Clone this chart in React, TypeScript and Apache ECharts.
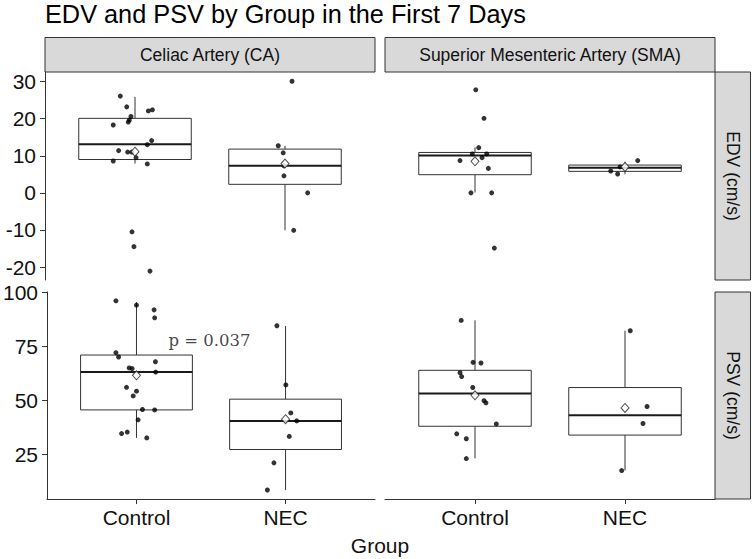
import React, { useEffect, useRef } from "react";
import * as echarts from "echarts";

// ---------- data ----------
const groups = ["Control", "NEC"];
const arteries = ["Celiac Artery (CA)", "Superior Mesenteric Artery (SMA)"];
const measures = ["EDV (cm/s)", "PSV (cm/s)"];
const chartTitle = "EDV and PSV by Group in the First 7 Days";
const xTitle = "Group";

const edvTicks = [-20, -10, 0, 10, 20, 30];
const psvTicks = [25, 50, 75, 100];
const edvRange = [-23.5, 32.6];
const psvRange = [4.1, 100.3];

// box stats per group: [lower whisker, Q1, median, Q3, upper whisker]
const caEdvBox = [
  [7.9, 9.0, 13.1, 20.1, 25.9],
  [-10.1, 2.3, 7.3, 11.8, 12.7],
];
const smaEdvBox = [
  [0.1, 4.9, 10.1, 10.9, 12.3],
  [5.0, 5.8, 6.8, 7.5, 8.4],
];
const caPsvBox = [
  [32.5, 45.5, 63.1, 71.0, 95.6],
  [8.3, 27.1, 40.4, 50.5, 84.5],
];
const smaPsvBox = [
  [23.0, 37.9, 53.1, 63.9, 87.1],
  [17.4, 33.8, 43.0, 55.9, 82.3],
];

// group means
const caEdvMean = [11.1, 7.9];
const smaEdvMean = [8.5, 7.0];
const caPsvMean = [61.6, 41.2];
const smaPsvMean = [52.3, 46.4];

// jittered observations: [jitter offset from group centre, value]
const caEdvControl = [
  [-0.098, 26.1], [-0.055, 23.2], [0.089, 22.1], [0.116, 22.4], [-0.027, 20.6],
  [-0.038, 19.6], [-0.045, 19.1], [-0.145, 18.3], [0.111, 14.1], [0.082, 13.0],
  [-0.109, 11.4], [-0.049, 11.0], [-0.022, 11.0], [0.007, 9.5], [-0.145, 8.6],
  [0.082, 7.8], [-0.02, -10.5], [-0.007, -14.5], [0.1, -21.1],
];
const caEdvNec = [
  [0.047, 30.1], [-0.045, 12.7], [-0.012, 10.8], [-0.007, 7.3], [-0.007, 4.6],
  [0.151, 0.0], [0.058, -10.1],
];
const smaEdvControl = [
  [0.005, 27.8], [0.06, 20.1], [0.025, 12.2], [-0.018, 10.5], [0.078, 10.5],
  [0.047, 9.5], [-0.1, 8.7], [0.089, 6.6], [-0.027, 0.0], [0.111, 0.0],
  [0.129, -14.9],
];
const smaEdvNec = [
  [0.085, 8.7], [-0.033, 7.0], [-0.095, 5.9], [-0.049, 5.1],
];
const caPsvControl = [
  [-0.138, 96.2], [0.0, 94.2], [0.118, 92.0], [0.122, 88.3], [-0.138, 72.1],
  [-0.12, 70.1], [0.127, 67.9], [-0.049, 65.0], [-0.029, 64.7], [0.129, 63.1],
  [-0.067, 56.0], [0.0, 54.2], [-0.022, 52.0], [0.04, 45.7], [0.122, 45.5],
  [0.011, 40.9], [-0.062, 35.2], [-0.1, 34.5], [0.069, 32.5],
];
const caPsvNec = [
  [-0.058, 84.6], [0.002, 57.1], [0.035, 44.1], [0.075, 40.4], [0.025, 33.2],
  [-0.078, 20.9], [-0.122, 8.3],
];
const smaPsvControl = [
  [-0.092, 87.1], [-0.013, 67.6], [0.04, 67.3], [-0.1, 62.8], [-0.089, 61.0],
  [-0.015, 55.9], [0.06, 49.8], [0.073, 48.8], [0.142, 39.0], [-0.122, 34.4],
  [-0.058, 32.1], [-0.058, 22.9],
];
const smaPsvNec = [
  [0.035, 82.3], [0.147, 47.1], [0.12, 39.2], [-0.022, 17.3],
];

// p-value annotation (CA, PSV panel) at data position
const pText = "p = 0.037";
const pPos = [1.49, 77.8];

// ---------- chart ----------
const FONT = "'Liberation Sans', Arial, sans-serif";
const INK = "#111111";
const LINE = "#333333";

const panels = [
  { box: caEdvBox, mean: caEdvMean, pts: [caEdvControl, caEdvNec], range: edvRange, ticks: edvTicks },
  { box: smaEdvBox, mean: smaEdvMean, pts: [smaEdvControl, smaEdvNec], range: edvRange, ticks: edvTicks },
  { box: caPsvBox, mean: caPsvMean, pts: [caPsvControl, caPsvNec], range: psvRange, ticks: psvTicks },
  { box: smaPsvBox, mean: smaPsvMean, pts: [smaPsvControl, smaPsvNec], range: psvRange, ticks: psvTicks },
];

const PL = [45, 385];
const PW = 330;
const PT = [72, 292];
const PH = [208, 207];

function renderBox(_params: any, api: any) {
  const x = api.value(0);
  const lo = api.value(1), q1 = api.value(2), md = api.value(3), q3 = api.value(4), hi = api.value(5);
  const hw = 0.375;
  const tl = api.coord([x - hw, q3]);
  const br = api.coord([x + hw, q1]);
  const ml = api.coord([x - hw, md]);
  const mr = api.coord([x + hw, md]);
  const pHi = api.coord([x, hi]);
  const pQ3 = api.coord([x, q3]);
  const pQ1 = api.coord([x, q1]);
  const pLo = api.coord([x, lo]);
  const ls = { stroke: LINE, lineWidth: 1 };
  return {
    type: "group",
    children: [
      { type: "line", shape: { x1: pHi[0], y1: pHi[1], x2: pQ3[0], y2: pQ3[1] }, style: ls },
      { type: "line", shape: { x1: pQ1[0], y1: pQ1[1], x2: pLo[0], y2: pLo[1] }, style: ls },
      {
        type: "rect",
        shape: { x: tl[0], y: tl[1], width: br[0] - tl[0], height: br[1] - tl[1] },
        style: { fill: "#ffffff", stroke: LINE, lineWidth: 1 },
      },
      { type: "line", shape: { x1: ml[0], y1: ml[1], x2: mr[0], y2: mr[1] }, style: { stroke: "#1a1a1a", lineWidth: 2 } },
    ],
  };
}

function buildOption() {
  const grid: any[] = [];
  const xAxis: any[] = [];
  const yAxis: any[] = [];
  const series: any[] = [];

  panels.forEach((p, i) => {
    const col = i % 2;
    const row = Math.floor(i / 2);
    grid.push({ left: PL[col], top: PT[row], width: PW, height: PH[row] });
    const showX = row === 1;
    const showY = col === 0;
    xAxis.push({
      gridIndex: i,
      type: "value",
      min: 0.4,
      max: 2.6,
      splitLine: { show: false },
      axisLine: { show: showX, onZero: false, lineStyle: { color: LINE, width: 1 } },
      axisTick: { show: showX, customValues: [1, 2], length: 5, lineStyle: { color: LINE } },
      axisLabel: {
        show: showX,
        customValues: [1, 2],
        formatter: (v: number) => groups[Math.round(v) - 1] ?? "",
        fontFamily: FONT,
        fontSize: 21,
        color: INK,
        margin: 8,
      },
    });
    yAxis.push({
      gridIndex: i,
      type: "value",
      min: p.range[0],
      max: p.range[1],
      splitLine: { show: false },
      axisLine: { show: showY, onZero: false, lineStyle: { color: LINE, width: 1 } },
      axisTick: { show: showY, customValues: p.ticks, length: 5, lineStyle: { color: LINE } },
      axisLabel: {
        show: showY,
        customValues: p.ticks,
        fontFamily: FONT,
        fontSize: 21,
        color: INK,
        margin: 9,
      },
    });

    series.push({
      type: "custom",
      xAxisIndex: i,
      yAxisIndex: i,
      renderItem: renderBox,
      encode: { x: 0, y: [1, 2, 3, 4, 5] },
      data: p.box.map((b, g) => [g + 1, ...b]),
      z: 1,
    });
    const pts: number[][] = [];
    p.pts.forEach((arr, g) => arr.forEach(([dx, v]) => pts.push([g + 1 + dx, v])));
    series.push({
      type: "scatter",
      xAxisIndex: i,
      yAxisIndex: i,
      data: pts,
      symbol: "circle",
      symbolSize: 5,
      itemStyle: { color: "#000000" },
      z: 3,
    });
    series.push({
      type: "scatter",
      xAxisIndex: i,
      yAxisIndex: i,
      data: p.mean.map((m, g) => [g + 1, m]),
      symbol: "diamond",
      symbolSize: [8, 9],
      itemStyle: { color: "#ffffff", borderColor: "#222222", borderWidth: 1 },
      z: 4,
    });
  });

  series.push({
    type: "scatter",
    xAxisIndex: 2,
    yAxisIndex: 2,
    data: [pPos],
    symbolSize: 0,
    silent: true,
    label: {
      show: true,
      position: "inside",
      formatter: pText,
      fontFamily: "'DejaVu Serif', serif",
      fontSize: 16.5,
      color: INK,
    },
    z: 5,
  });

  const strips: any[] = [];
  arteries.forEach((a, c) => {
    strips.push({
      type: "rect",
      shape: { x: PL[c], y: 37.5, width: PW, height: 34.5 },
      style: { fill: "#d9d9d9", stroke: LINE, lineWidth: 1 },
    });
    strips.push({
      type: "text",
      x: PL[c] + PW / 2,
      y: 55,
      style: {
        text: a,
        fontFamily: FONT,
        fontSize: 17.5,
        fill: INK,
        align: "center",
        verticalAlign: "middle",
      },
    });
  });
  measures.forEach((m, r) => {
    strips.push({
      type: "rect",
      shape: { x: 715, y: PT[r], width: 35.5, height: PH[r] },
      style: { fill: "#d9d9d9", stroke: LINE, lineWidth: 1 },
    });
    strips.push({
      type: "text",
      x: 733,
      y: PT[r] + PH[r] / 2,
      rotation: -Math.PI / 2,
      style: {
        text: m,
        fontFamily: FONT,
        fontSize: 17.5,
        fill: INK,
        align: "center",
        verticalAlign: "middle",
      },
    });
  });
  strips.push({
    type: "text",
    x: 380,
    y: 545,
    style: {
      text: xTitle,
      fontFamily: FONT,
      fontSize: 21,
      fill: INK,
      align: "center",
      verticalAlign: "middle",
    },
  });

  return {
    animation: false,
    backgroundColor: "#ffffff",
    title: {
      text: chartTitle,
      left: 40,
      top: -3.5,
      textStyle: { fontFamily: FONT, fontSize: 25.3, fontWeight: "normal", color: "#000000" },
    },
    grid,
    xAxis,
    yAxis,
    series,
    graphic: strips,
  };
}

export default function App() {
  const ref = useRef<HTMLDivElement>(null);
  useEffect(() => {
    if (!ref.current) return;
    const chart = echarts.init(ref.current, undefined, { renderer: "svg" });
    chart.setOption(buildOption() as any);
    return () => chart.dispose();
  }, []);
  return (
    <div
      ref={ref}
      style={{ position: "fixed", left: 0, top: 0, width: 752, height: 559, background: "#fff" }}
    />
  );
}
